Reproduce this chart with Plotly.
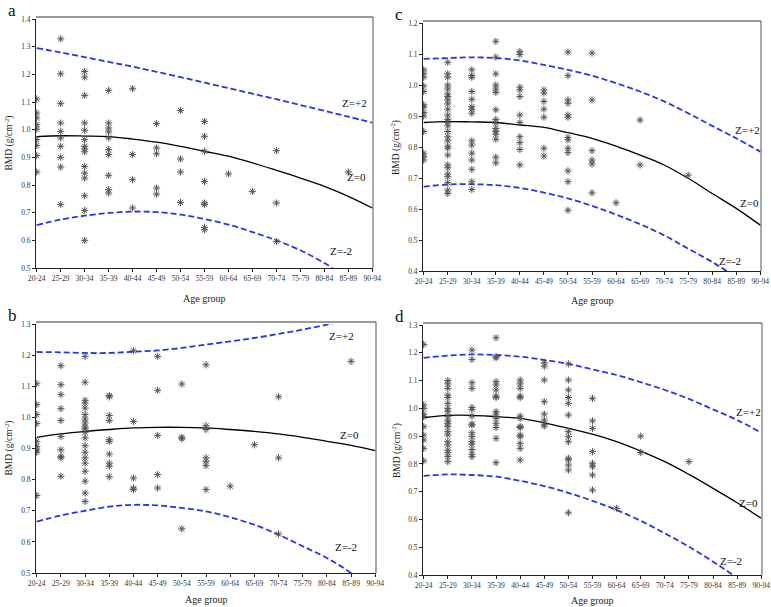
import plotly.graph_objects as go

W, H = 771, 607
age_groups = ["20-24", "25-29", "30-34", "35-39", "40-44", "45-49", "50-54", "55-59",
              "60-64", "65-69", "70-74", "75-79", "80-84", "85-89", "90-94"]

# ---------------- panel a ----------------
a_points = {
    "20-24": [1.111, 1.06, 1.042, 1.018, 1.002, 0.964, 0.943, 0.906, 0.847],
    "25-29": [1.328, 1.202, 1.094, 1.024, 0.994, 0.97, 0.94, 0.9, 0.865, 0.729],
    "30-34": [1.21, 1.19, 1.124, 1.024, 0.998, 0.964, 0.94, 0.93, 0.92, 0.867, 0.843, 0.825, 0.761, 0.708, 0.6],
    "35-39": [1.142, 1.024, 1.006, 0.992, 0.97, 0.928, 0.91, 0.835, 0.783, 0.771],
    "40-44": [1.148, 0.91, 0.819, 0.717],
    "45-49": [1.022, 0.934, 0.913, 0.789, 0.767],
    "50-54": [1.069, 0.894, 0.847, 0.737],
    "55-59": [1.03, 0.976, 0.922, 0.813, 0.735, 0.729, 0.647, 0.638],
    "60-64": [0.84],
    "65-69": [0.777],
    "70-74": [0.924, 0.735, 0.596],
    "85-89": [0.847],
}
a_z0 = [0.975, 0.978, 0.977, 0.975, 0.966, 0.955, 0.94, 0.922, 0.904, 0.88, 0.853, 0.825, 0.795, 0.759, 0.717]
a_zp2 = [1.295, 1.279, 1.262, 1.245, 1.228, 1.209, 1.19, 1.17, 1.15, 1.13, 1.11, 1.089, 1.068, 1.047, 1.025]
a_zm2 = [0.655, 0.675, 0.689, 0.699, 0.704, 0.702, 0.693, 0.677, 0.657, 0.63, 0.6, 0.564, 0.518, 0.46, 0.40]

# ---------------- panel c ----------------
c_points = {
    "20-24": [1.049, 1.036, 1.025, 0.997, 0.979, 0.936, 0.928, 0.911, 0.9, 0.85, 0.78, 0.769, 0.758],
    "25-29": [1.073, 1.036, 1.025, 1.0, 0.987, 0.971, 0.963, 0.952, 0.939, 0.922, 0.903, 0.889, 0.879,
              0.868, 0.85, 0.833, 0.82, 0.803, 0.796, 0.774, 0.742, 0.733, 0.713, 0.704, 0.685, 0.661, 0.65],
    "30-34": [1.049, 1.03, 1.025, 0.979, 0.954, 0.93, 0.922, 0.909, 0.82, 0.806, 0.78, 0.758, 0.728, 0.688, 0.663],
    "35-39": [1.141, 1.09, 1.036, 1.0, 0.987, 0.976, 0.92, 0.889, 0.877, 0.86, 0.85, 0.841, 0.825, 0.767, 0.749],
    "40-44": [1.108, 1.098, 0.993, 0.984, 0.963, 0.903, 0.879, 0.833, 0.814, 0.792, 0.742],
    "45-49": [0.984, 0.974, 0.947, 0.922, 0.896, 0.796, 0.771],
    "50-54": [1.106, 1.03, 0.952, 0.941, 0.903, 0.896, 0.831, 0.823, 0.796, 0.782, 0.723, 0.688, 0.596],
    "55-59": [1.103, 0.952, 0.788, 0.758, 0.745, 0.652],
    "60-64": [0.62],
    "65-69": [0.887, 0.742],
    "75-79": [0.709],
}
c_z0 = [0.879, 0.882, 0.881, 0.879, 0.871, 0.863, 0.846, 0.828, 0.803, 0.774, 0.742, 0.699, 0.65, 0.602, 0.548]
c_zp2 = [1.084, 1.087, 1.089, 1.087, 1.079, 1.065, 1.049, 1.03, 1.006, 0.979, 0.947, 0.909, 0.868, 0.828, 0.785]
c_zm2 = [0.672, 0.679, 0.68, 0.677, 0.668, 0.653, 0.634, 0.61, 0.582, 0.551, 0.515, 0.472, 0.429, 0.38, 0.33]

# ---------------- panel b ----------------
b_points = {
    "20-24": [1.108, 1.041, 1.009, 0.98, 0.923, 0.907, 0.896, 0.888, 0.749],
    "25-29": [1.166, 1.105, 1.073, 1.028, 0.99, 0.939, 0.896, 0.875, 0.87, 0.811],
    "30-34": [1.196, 1.113, 1.055, 1.046, 1.03, 1.009, 0.995, 0.982, 0.969, 0.963, 0.952, 0.934, 0.909,
              0.888, 0.87, 0.853, 0.827, 0.795, 0.757, 0.73],
    "35-39": [1.07, 1.066, 1.006, 0.99, 0.928, 0.923, 0.882, 0.853, 0.843, 0.809],
    "40-44": [1.214, 0.987, 0.805, 0.773, 0.768],
    "45-49": [1.196, 1.087, 0.942, 0.816, 0.773],
    "50-54": [1.107, 0.936, 0.931, 0.642],
    "55-59": [1.169, 0.973, 0.961, 0.87, 0.859, 0.845, 0.768],
    "60-64": [0.779],
    "65-69": [0.912],
    "70-74": [1.066, 0.87, 0.625],
    "85-89": [1.18],
}
b_z0 = [0.936, 0.947, 0.955, 0.961, 0.966, 0.968, 0.968, 0.966, 0.961, 0.955, 0.947, 0.936, 0.923, 0.91, 0.893]
b_zp2 = [1.21, 1.209, 1.207, 1.207, 1.211, 1.215, 1.223, 1.234, 1.244, 1.255, 1.268, 1.282, 1.298, 1.315, 1.332]
b_zm2 = [0.665, 0.685, 0.70, 0.713, 0.719, 0.717, 0.709, 0.698, 0.679, 0.655, 0.623, 0.586, 0.548, 0.50, 0.44]

# ---------------- panel d ----------------
d_points = {
    "20-24": [1.23, 1.012, 1.0, 0.979, 0.97, 0.934, 0.904, 0.886, 0.856, 0.811],
    "25-29": [1.1, 1.088, 1.072, 1.048, 1.039, 1.018, 1.0, 0.988, 0.97, 0.955, 0.946, 0.934, 0.916,
              0.904, 0.88, 0.868, 0.85, 0.84, 0.826, 0.808],
    "30-34": [1.21, 1.176, 1.092, 1.072, 1.003, 0.996, 0.972, 0.943, 0.94, 0.912, 0.898, 0.88, 0.871,
              0.852, 0.835, 0.826],
    "35-39": [1.254, 1.186, 1.182, 1.096, 1.084, 1.066, 1.044, 1.039, 0.988, 0.979, 0.964, 0.946, 0.931,
              0.892, 0.804],
    "40-44": [1.102, 1.088, 1.072, 1.044, 1.039, 0.972, 0.964, 0.934, 0.931, 0.904, 0.898, 0.874, 0.856, 0.814],
    "45-49": [1.164, 1.152, 1.102, 1.024, 0.979, 0.958, 0.943, 0.936],
    "50-54": [1.16, 1.102, 1.066, 1.039, 1.018, 0.976, 0.916, 0.898, 0.88, 0.82, 0.814, 0.796, 0.778, 0.624],
    "55-59": [1.036, 0.955, 0.928, 0.844, 0.802, 0.79, 0.76, 0.706],
    "60-64": [0.64],
    "65-69": [0.9, 0.841],
    "75-79": [0.808],
}
d_z0 = [0.967, 0.975, 0.975, 0.97, 0.964, 0.948, 0.928, 0.907, 0.88, 0.846, 0.808, 0.762, 0.712, 0.66, 0.604]
d_zp2 = [1.182, 1.19, 1.194, 1.192, 1.186, 1.174, 1.16, 1.14, 1.12, 1.094, 1.066, 1.034, 0.996, 0.958, 0.912]
d_zm2 = [0.757, 0.762, 0.76, 0.754, 0.739, 0.72, 0.696, 0.667, 0.634, 0.595, 0.55, 0.502, 0.448, 0.39, 0.33]

y_ranges = {"a": [0.5, 1.4], "c": [0.4, 1.2], "b": [0.5, 1.3], "d": [0.4, 1.3]}

# pixel boxes of the plot areas: (left, right, top, bottom)
boxes = {"a": (36, 373, 19, 268), "c": (423, 761, 23, 271),
         "b": (36, 376, 324, 573), "d": (423, 762, 325, 575)}
xtitle_y = {"a": 298, "c": 300, "b": 599, "d": 600}
axis_ids = {"a": "", "c": "2", "b": "3", "d": "4"}

# label placement (data coords) for Z curves
z_labels = {
    "a": [(13.25, 1.095, "Z=+2"), (13.35, 0.83, "Z=0"), (12.7, 0.56, "Z=-2")],
    "c": [(13.45, 0.855, "Z=+2"), (13.55, 0.618, "Z=0"), (12.75, 0.432, "Z=-2")],
    "b": [(12.6, 1.262, "Z=+2"), (12.95, 0.943, "Z=0"), (12.8, 0.582, "Z=-2")],
    "d": [(13.45, 0.985, "Z=+2"), (13.45, 0.66, "Z=0"), (12.75, 0.45, "Z=-2")],
}

panels = {
    "a": (a_points, a_z0, a_zp2, a_zm2),
    "c": (c_points, c_z0, c_zp2, c_zm2),
    "b": (b_points, b_z0, b_zp2, b_zm2),
    "d": (d_points, d_z0, d_zp2, d_zm2),
}

FONT = "Liberation Serif"
fig = go.Figure()
layout = dict(width=W, height=H, margin=dict(l=0, r=0, t=0, b=0, autoexpand=False),
              paper_bgcolor="white", plot_bgcolor="white", showlegend=False,
              font=dict(family=FONT, color="#222"))
annotations = []
shapes = []
xs = list(range(len(age_groups)))

for key, (pts, z0, zp2, zm2) in panels.items():
    sid = axis_ids[key]
    xa, ya = "x" + sid, "y" + sid
    px_x, py_y = [], []
    for g, vals in pts.items():
        for v in vals:
            px_x.append(age_groups.index(g))
            py_y.append(v)
    for curve, col, dash, wid in ((zp2, "#2b35e0", "6px,3px", 1.8),
                                  (zm2, "#2b35e0", "6px,3px", 1.8),
                                  (z0, "black", "solid", 1.3)):
        fig.add_trace(go.Scatter(x=xs, y=curve, mode="lines", xaxis=xa, yaxis=ya,
                                 line=dict(color=col, dash=dash, width=wid, shape="spline"),
                                 hoverinfo="skip"))
    fig.add_trace(go.Scatter(x=px_x, y=py_y, mode="markers", xaxis=xa, yaxis=ya,
                             marker=dict(symbol="asterisk-open", size=6, color="#555555",
                                         line=dict(color="#555555", width=1))))
    l, r, t, b = boxes[key]
    layout["xaxis" + sid] = dict(domain=[l / W, r / W], range=[-0.03, 14.03],
                                 tickvals=xs, ticktext=age_groups, anchor=ya,
                                 showgrid=False, zeroline=False, showline=True,
                                 linecolor="#222", linewidth=1, ticks="outside",
                                 ticklen=3, tickcolor="#222", ticklabeloverflow="allow",
                                 tickfont=dict(family=FONT, size=7.6, color="#333"))
    layout["yaxis" + sid] = dict(domain=[1 - b / H, 1 - t / H], range=y_ranges[key],
                                 dtick=0.1, tickformat=".1f", anchor=xa,
                                 showgrid=False, zeroline=False, showline=True,
                                 linecolor="#222", linewidth=1, ticks="outside",
                                 ticklen=3, tickcolor="#222",
                                 tickfont=dict(family=FONT, size=7.5, color="#333"))
    # grey top/right frame
    shapes.append(dict(type="line", xref="paper", yref="paper",
                       x0=l / W, x1=r / W, y0=1 - (t - 2) / H, y1=1 - (t - 2) / H,
                       line=dict(color="#999", width=2)))
    shapes.append(dict(type="line", xref="paper", yref="paper",
                       x0=r / W, x1=r / W, y0=1 - b / H, y1=1 - (t - 2) / H,
                       line=dict(color="#555", width=1)))
    for (zx, zy, txt) in z_labels[key]:
        annotations.append(dict(x=zx, y=zy, xref=xa, yref=ya, text=txt, showarrow=False,
                                xanchor="center", yanchor="middle",
                                font=dict(family=FONT, size=11, color="#111")))
    # y-axis title
    annotations.append(dict(x=(l - 27) / W, y=1 - (t + b) / 2 / H, xref="paper", yref="paper",
                            text="BMD (g/cm<sup>-2</sup>)", textangle=-90, showarrow=False,
                            xanchor="center", yanchor="middle",
                            font=dict(family=FONT, size=9.5, color="#222")))
    # x-axis title
    annotations.append(dict(x=(l + r) / 2 / W, y=1 - xtitle_y[key] / H, xref="paper", yref="paper",
                            text="Age group", showarrow=False,
                            xanchor="center", yanchor="middle",
                            font=dict(family=FONT, size=10, color="#222")))
    # panel letter
    annotations.append(dict(x=(l - 24) / W, y=1 - (t - 9) / H, xref="paper", yref="paper",
                            text=key, showarrow=False, xanchor="center", yanchor="middle",
                            font=dict(family=FONT, size=17, color="#111")))

layout["annotations"] = annotations
layout["shapes"] = shapes
fig.update_layout(**layout)
fig.write_html("out.html", config={"displayModeBar": False},
               post_script="document.body.style.margin='0';document.body.style.overflow='hidden';")
